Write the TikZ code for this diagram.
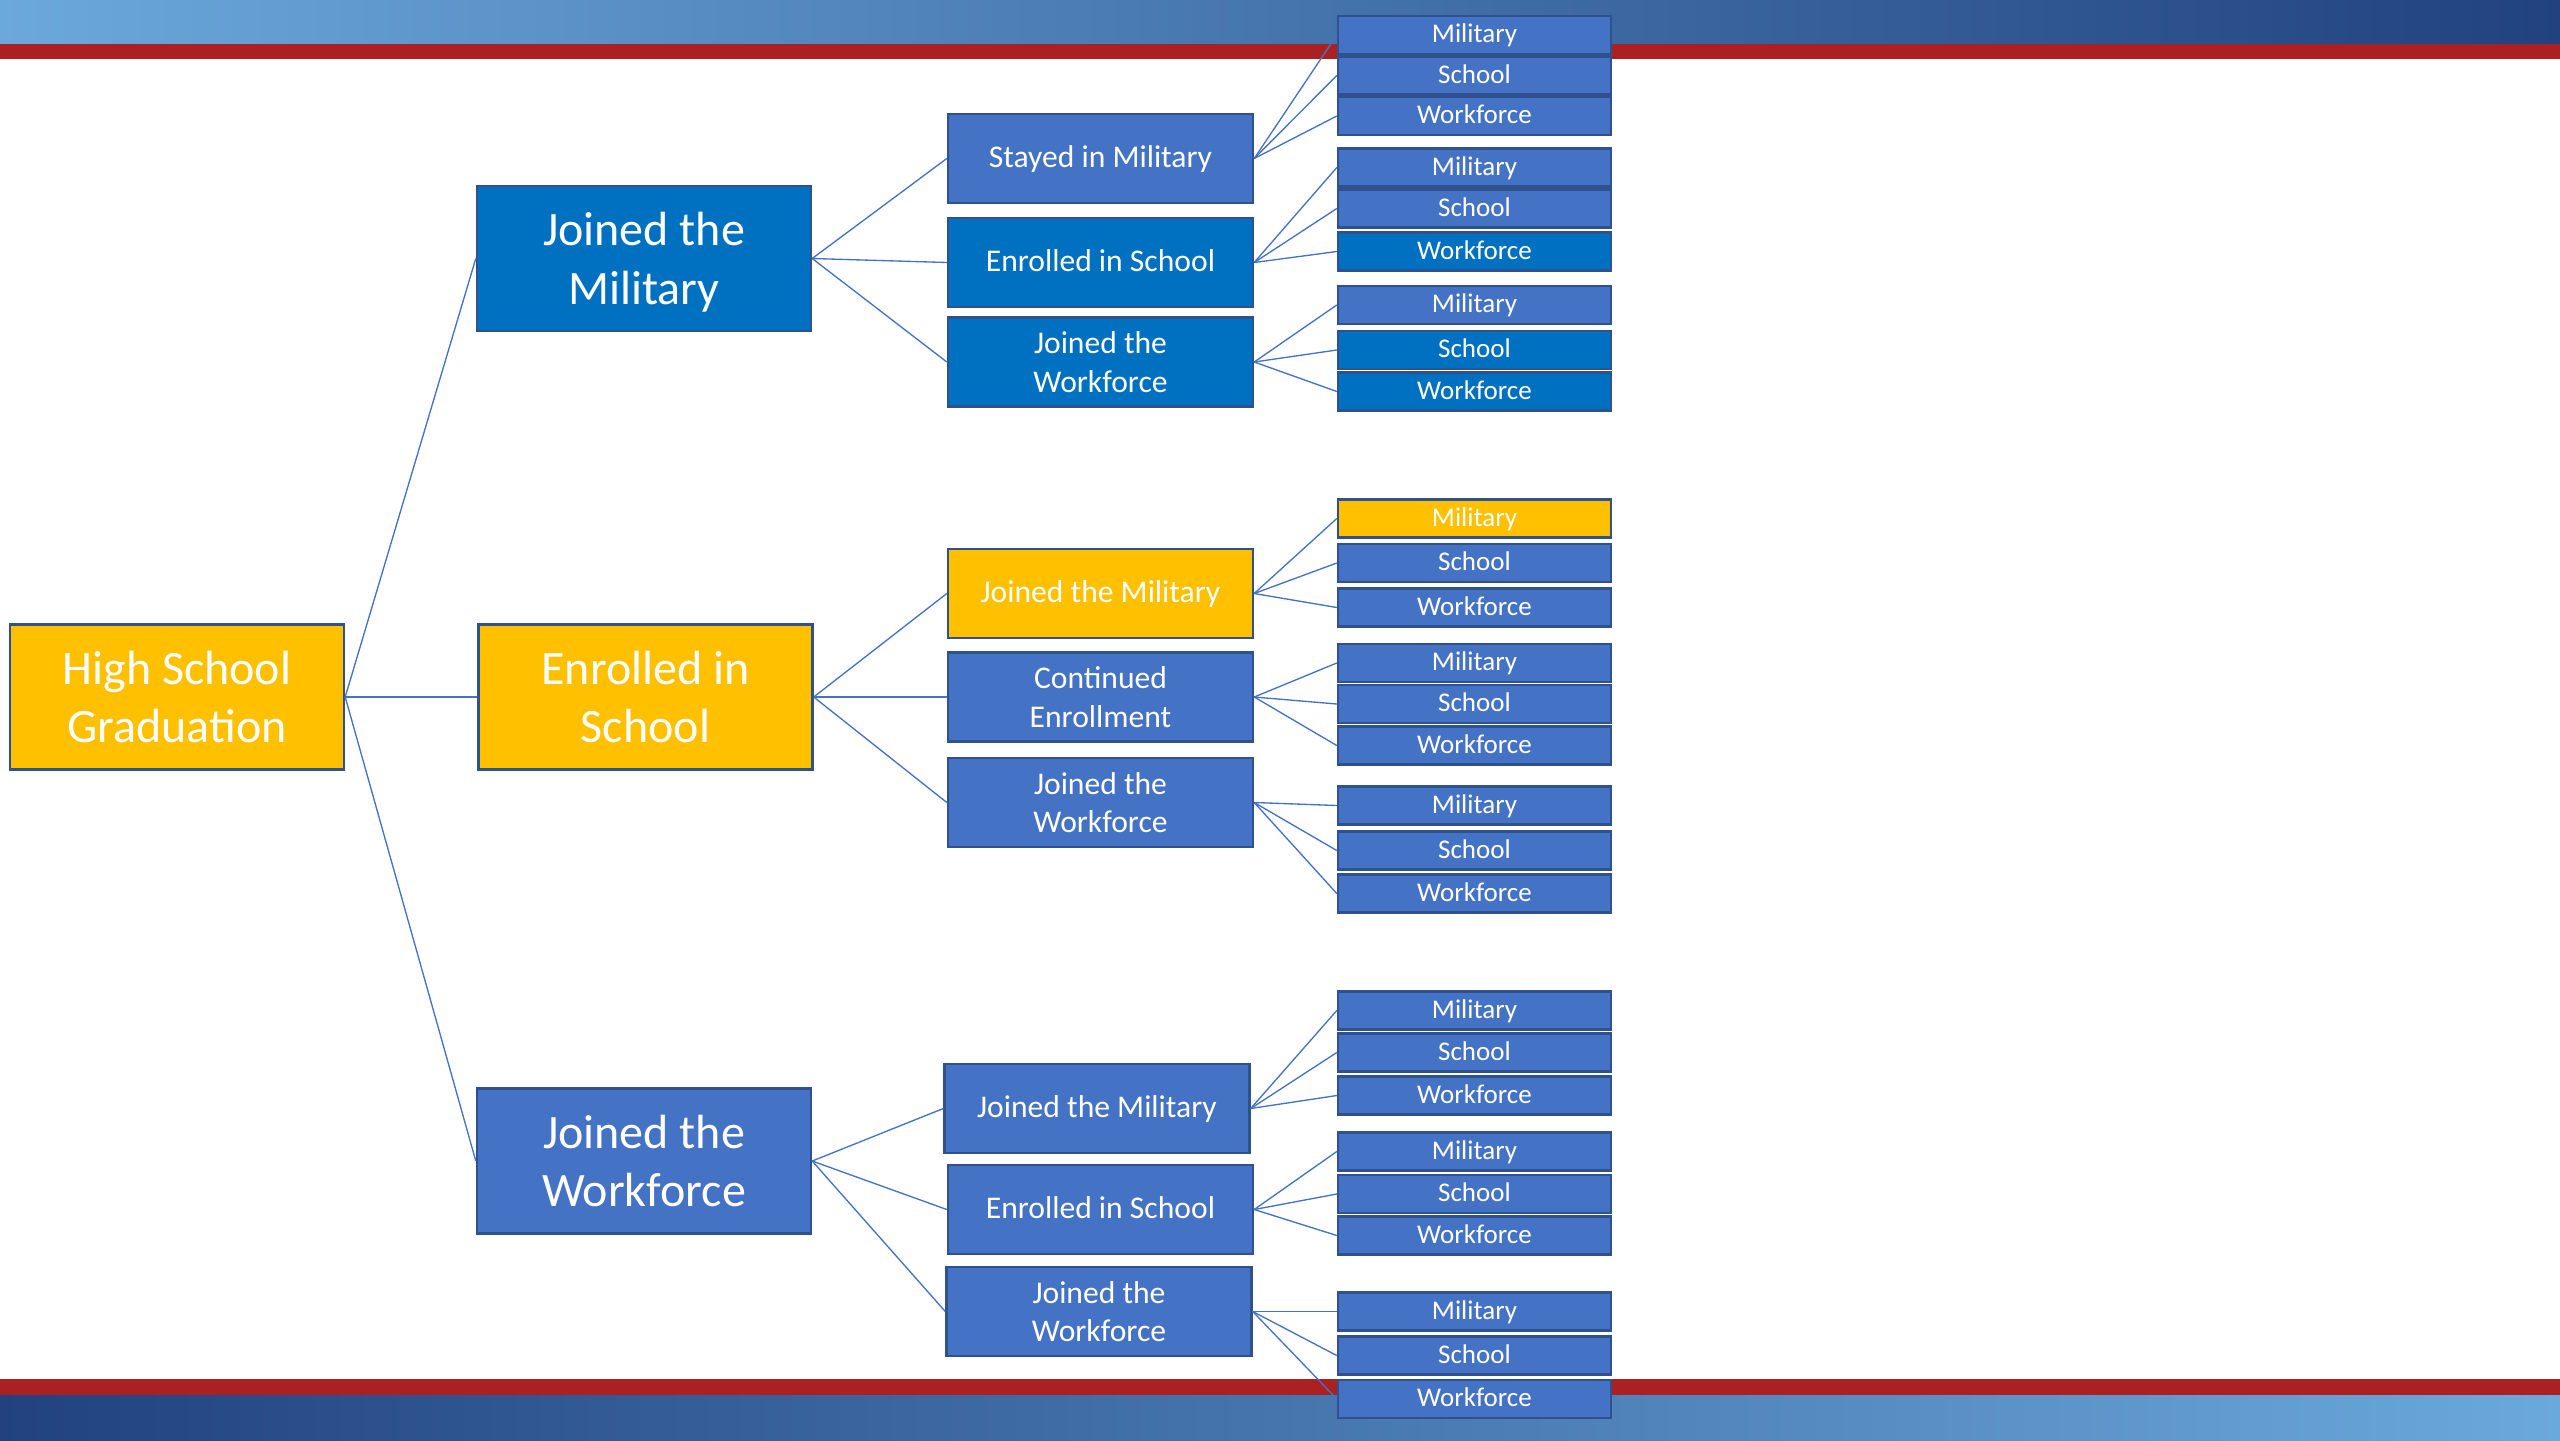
\documentclass[tikz,border=0pt]{standalone}
\usepackage{fontspec}
\setmainfont{Carlito}
\definecolor{accA}{HTML}{4472C4}
\definecolor{accB}{HTML}{0070C0}
\definecolor{gold}{HTML}{FFC000}
\definecolor{edge}{HTML}{2F528F}
\definecolor{barred}{HTML}{AB2121}
\definecolor{barlight}{HTML}{6BA8DB}
\definecolor{bardark}{HTML}{21427F}
\newcommand\nodepth[1]{\raisebox{0pt}[\height][0pt]{#1}}
\begin{document}
\begin{tikzpicture}[x=0.75pt,y=-0.75pt,
 box/.style={draw=edge,line width=1.8pt,text=white,align=center,inner sep=0pt},
 leafbox/.style={box,minimum width=204.75pt,minimum height=28.5pt,text height=1.25em,text depth=0.09em,font=\fontsize{20.25}{24.7}\selectfont},
 lvltwo/.style={box,minimum width=228.75pt,minimum height=66.75pt,font=\fontsize{23.7}{28.9}\selectfont},
 lvltwoone/.style={lvltwo,text height=1.35em,text depth=0.05em},
 lvlone/.style={box,minimum width=250.5pt,minimum height=108.75pt,font=\fontsize{36}{44}\selectfont},
 cA/.style={fill=accA}, cB/.style={fill=accB}, cG/.style={fill=gold},
 conn/.style={draw=accA,line width=1pt}]
\useasboundingbox (0,0) rectangle (2560,1440);
% bars
\shade[left color=barlight,right color=bardark] (0,0) rectangle (2560,44);
\fill[barred] (0,44) rectangle (2560,59);
\fill[barred] (0,1379) rectangle (2560,1395);
\shade[left color=bardark,right color=barlight] (0,1395) rectangle (2560,1440);

% root and level one
\node[lvlone,cG] (hsg) at (177,697) {High School\\Graduation};
\node[lvlone,cB] (la) at (644,258.5) {Joined the\\\nodepth{Military}};
\node[lvlone,cG] (lb) at (645.5,697) {Enrolled in\\School};
\node[lvlone,cA] (lc) at (644,1161) {Joined the\\Workforce};

% level two
\node[lvltwoone,cA] (a1) at (1100.5,158.5) {Stayed in Military};
\node[lvltwoone,cB] (a2) at (1100.5,262.5) {Enrolled in School};
\node[lvltwo,cB] (a3) at (1100.5,362) {Joined the\\Workforce};
\node[lvltwoone,cG] (b1) at (1100.5,593.5) {Joined the Military};
\node[lvltwo,cA] (b2) at (1100.5,697) {Continued\\Enrollment};
\node[lvltwo,cA] (b3) at (1100.5,802.5) {Joined the\\Workforce};
\node[lvltwoone,cA] (c1) at (1097,1108.5) {Joined the Military};
\node[lvltwoone,cA] (c2) at (1100.5,1209.5) {Enrolled in School};
\node[lvltwo,cA] (c3) at (1099,1311.5) {Joined the\\Workforce};

% leaves group 1
\node[leafbox,cA] (a1m) at (1474.5,35) {Military};
\node[leafbox,cA] (a1s) at (1474.5,75.5) {School};
\node[leafbox,cA] (a1w) at (1474.5,116) {Workforce};
\node[leafbox,cA] (a2m) at (1474.5,167.5) {Military};
\node[leafbox,cA] (a2s) at (1474.5,208.5) {School};
\node[leafbox,cB] (a2w) at (1474.5,251.5) {Workforce};
\node[leafbox,cA] (a3m) at (1474.5,305) {Military};
\node[leafbox,cB] (a3s) at (1474.5,350) {School};
\node[leafbox,cB] (a3w) at (1474.5,391.5) {Workforce};
% leaves group 2
\node[leafbox,cG] (b1m) at (1474.5,518.5) {Military};
\node[leafbox,cA] (b1s) at (1474.5,563) {School};
\node[leafbox,cA] (b1w) at (1474.5,607.5) {Workforce};
\node[leafbox,cA] (b2m) at (1474.5,663) {Military};
\node[leafbox,cA] (b2s) at (1474.5,704) {School};
\node[leafbox,cA] (b2w) at (1474.5,745.5) {Workforce};
\node[leafbox,cA] (b3m) at (1474.5,805.5) {Military};
\node[leafbox,cA] (b3s) at (1474.5,850.5) {School};
\node[leafbox,cA] (b3w) at (1474.5,893.5) {Workforce};
% leaves group 3
\node[leafbox,cA] (c1m) at (1474.5,1010.5) {Military};
\node[leafbox,cA] (c1s) at (1474.5,1052.5) {School};
\node[leafbox,cA] (c1w) at (1474.5,1095.5) {Workforce};
\node[leafbox,cA] (c2m) at (1474.5,1151.5) {Military};
\node[leafbox,cA] (c2s) at (1474.5,1194) {School};
\node[leafbox,cA] (c2w) at (1474.5,1235.5) {Workforce};
\node[leafbox,cA] (c3m) at (1474.5,1311.5) {Military};
\node[leafbox,cA] (c3s) at (1474.5,1355.5) {School};
\node[leafbox,cA] (c3w) at (1474.5,1399) {Workforce};

% connectors
\foreach \t in {la,lb,lc} \draw[conn] (hsg.east) -- (\t.west);
\foreach \t in {a1,a2,a3} \draw[conn] (la.east) -- (\t.west);
\foreach \t in {b1,b2,b3} \draw[conn] (lb.east) -- (\t.west);
\foreach \t in {c1,c2,c3} \draw[conn] (lc.east) -- (\t.west);
\foreach \p in {a1,a2,a3,b1,b2,b3,c1,c2,c3}
  \foreach \l in {m,s,w} \draw[conn] (\p.east) -- (\p\l.west);
\end{tikzpicture}
\end{document}
